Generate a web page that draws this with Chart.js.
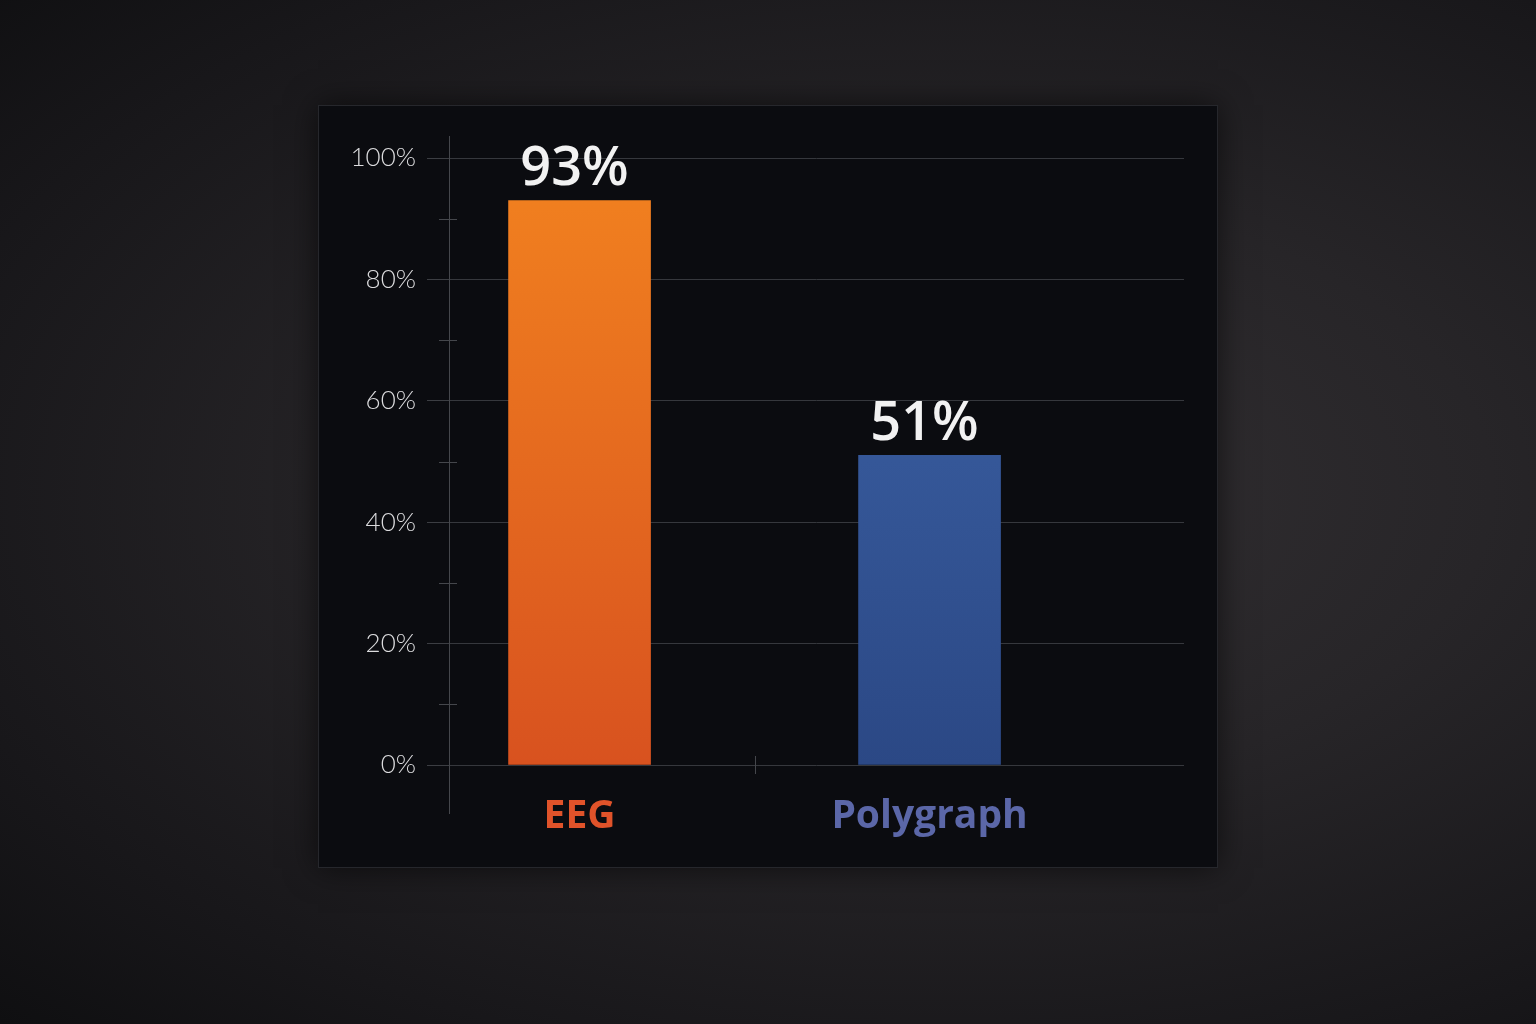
<!DOCTYPE html>
<html>
<head>
<meta charset="utf-8">
<script src="https://cdn.jsdelivr.net/npm/chart.js@4/dist/chart.umd.min.js"></script>
<style>
  html, body { margin: 0; padding: 0; }
  body {
    width: 1536px; height: 1024px; overflow: hidden;
    background: radial-gradient(ellipse at 62% 48%, #333033 0%, #272528 40%, #18171a 78%, #0f0f11 100%);
  }
  #panel {
    position: absolute; left: 318px; top: 105px;
    width: 900px; height: 763px;
    background: #0b0c10;
    border: 1px solid #26272c;
    box-sizing: border-box;
    box-shadow: 0 0 30px rgba(0,0,0,0.6);
  }
</style>
</head>
<body>
<div id="panel"><canvas id="barChart"></canvas></div>
<script>
// data
const categories = ["EEG", "Polygraph"];
const values = [93, 51];
const yTicks = [0, 20, 40, 60, 80, 100];
const labelColors = ["#e0532a", "#5b67a8"];

// bar fills, top -> bottom
const barGradients = [
  ["#f2821f", "#d8521f"],
  ["#3f66ab", "#2b4885"],
];

function barFill(ctx) {
  const chart = ctx.chart;
  const area = chart.chartArea;
  if (!area) return barGradients[ctx.dataIndex][1];
  const pair = barGradients[ctx.dataIndex];
  const g = chart.ctx.createLinearGradient(0, area.top, 0, area.bottom);
  g.addColorStop(0, pair[0]);
  g.addColorStop(1, pair[1]);
  return g;
}

// axis extras + value labels
const decor = {
  id: "decor",
  beforeDatasetsDraw(chart) {
    const c = chart.ctx;
    const y = chart.scales.y;
    const x = chart.scales.x;
    const left = chart.chartArea.left;
    c.save();
    c.strokeStyle = "#45474c";
    c.lineWidth = 1;
    // vertical axis line
    c.beginPath();
    c.moveTo(left + 0.5, y.getPixelForValue(100) - 22);
    c.lineTo(left + 0.5, y.getPixelForValue(0) + 49);
    c.stroke();
    // minor ticks
    [10, 30, 50, 70, 90].forEach((v) => {
      const py = Math.round(y.getPixelForValue(v)) + 0.5;
      c.beginPath();
      c.moveTo(left - 10, py);
      c.lineTo(left + 8, py);
      c.stroke();
    });
    // tick between categories
    const bx = Math.round(x.getPixelForValue(0.5)) + 0.5;
    const by = y.getPixelForValue(0);
    c.beginPath();
    c.moveTo(bx, by - 9);
    c.lineTo(bx, by + 9);
    c.stroke();
    c.restore();
  },
  afterDatasetsDraw(chart) {
    const c = chart.ctx;
    const meta = chart.getDatasetMeta(0);
    c.save();
    c.fillStyle = "#f2f2f2";
    c.font = "600 54px 'Open Sans'";
    c.textAlign = "center";
    c.textBaseline = "alphabetic";
    meta.data.forEach((bar, i) => {
      c.fillText(values[i] + "%", bar.x - 5, bar.y - 15);
    });
    c.restore();
  },
};

const myChart = new Chart("barChart", {
  type: "bar",
  data: {
    datasets: [
      {
        label: "Accuracy",
        data: values.map((v, i) => ({ x: i, y: v })),
        backgroundColor: barFill,
        borderWidth: 0,
        barThickness: 142,
      },
    ],
  },
  options: {
    responsive: true,
    maintainAspectRatio: false,
    animation: false,
    layout: { padding: { top: 52, right: 33, left: 0, bottom: 0 } },
    plugins: {
      legend: { display: false },
      tooltip: { enabled: false },
    },
    scales: {
      x: {
        type: "linear",
        offset: false,
        min: -0.373,
        max: 1.727,
        afterBuildTicks: (scale) => {
          scale.ticks = categories.map((c, i) => ({ value: i }));
        },
        afterFit: (scale) => {
          scale.height = 102;
        },
        grid: { display: false },
        border: { display: false },
        ticks: {
          padding: 20,
          callback: (v) => categories[v],
          color: (ctx) => labelColors[ctx.index],
          font: { family: "'Open Sans'", size: 39, weight: "bold" },
        },
      },
      y: {
        min: 0,
        max: 100,
        afterBuildTicks: (scale) => {
          scale.ticks = yTicks.map((v) => ({ value: v }));
        },
        afterFit: (scale) => {
          scale.width = 130;
        },
        grid: { color: "#36383d", tickLength: 22, tickColor: "#3c3e43" },
        border: { display: false },
        ticks: {
          padding: 11,
          color: "#dcdcde",
          callback: (v) => v + "%",
          font: { family: "Lato", size: 26, weight: "300" },
        },
      },
    },
  },
  plugins: [decor],
});
</script>
</body>
</html>
